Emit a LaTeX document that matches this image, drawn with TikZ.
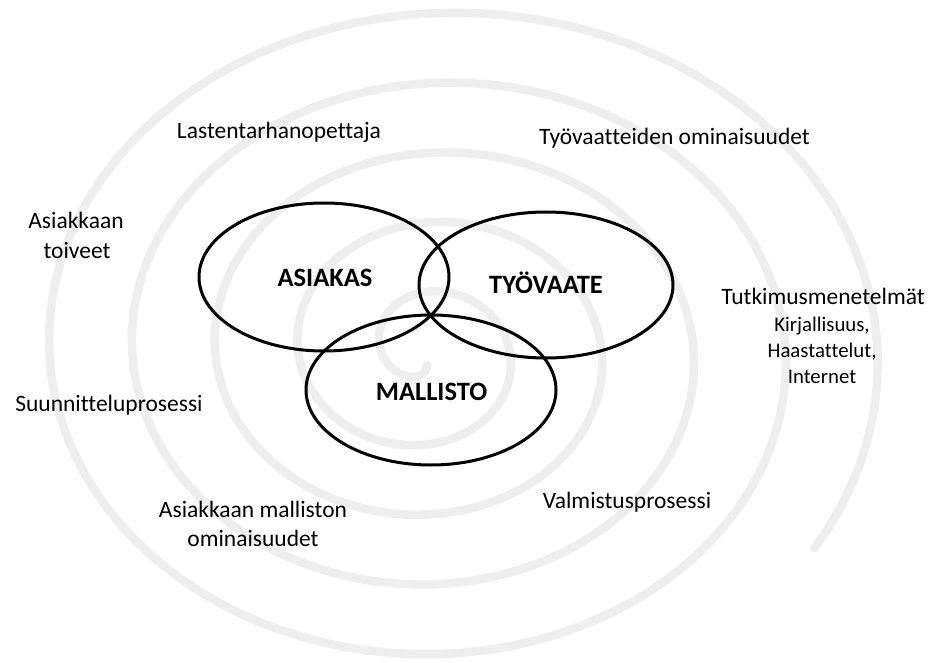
\documentclass[tikz,border=0pt]{standalone}
\usepackage{fontspec}
\setmainfont{Carlito}[Ligatures={NoCommon}]
\begin{document}
\begin{tikzpicture}[x=1pt,y=-1pt,
  lbl/.style={inner sep=0pt, anchor=base, font=\fontsize{23.5}{28}\selectfont},
  sml/.style={inner sep=0pt, anchor=base, font=\fontsize{20.8}{25}\selectfont},
  big/.style={inner sep=0pt, anchor=base, font=\fontsize{26.5}{30}\selectfont\bfseries},
  ring/.style={draw=black, line width=3pt},
  swirl/.style={draw={rgb,255:red,238;green,238;blue,238}, line width=8.5pt, line cap=round, line join=round}]
\useasboundingbox (0,0) rectangle (934,663);
\fill[white] (0,0) rectangle (934,663);
% background spiral
\draw[swirl] plot[domain=-33:1745, samples=500, variable=\t]
  ({442.6-0.0125*\t+(435-0.243*\t)*cos(\t)}, {351-(355.5-0.194*\t)*sin(\t)});
% Venn ellipses
\draw[ring] (324,277) ellipse [x radius=125, y radius=74];
\draw[ring] (546,285) ellipse [x radius=127, y radius=73];
\draw[ring] (431,390) ellipse [x radius=125, y radius=75];
% labels
\node[big] (asiakas) at (325,286) {ASIAKAS};
\node[big] (tyovaate) at (546,293) {TYÖVAATE};
\node[big] (mallisto) at (431.5,400) {MALLISTO};
\node[lbl] (lasten) at (279,139) {Lastentarhanopettaja};
\node[lbl] (tyoom) at (674.5,145) {Työvaatteiden ominaisuudet};
\node[lbl] (toive1) at (76,229) {Asiakkaan};
\node[lbl] (toive2) at (77,258) {toiveet};
\node[lbl] (suun) at (109,411) {Suunnitteluprosessi};
\node[lbl] (mall1) at (253,517) {Asiakkaan malliston};
\node[lbl] (mall2) at (253,546) {ominaisuudet};
\node[lbl] (valm) at (627,508) {Valmistusprosessi};
\node[lbl] (tutk) at (823,304) {Tutkimusmenetelmät};
\node[sml] (kirj) at (822,331) {Kirjallisuus,};
\node[sml] (haas) at (822,357) {Haastattelut,};
\node[sml] (inter) at (822,383) {Internet};
\end{tikzpicture}
\end{document}
